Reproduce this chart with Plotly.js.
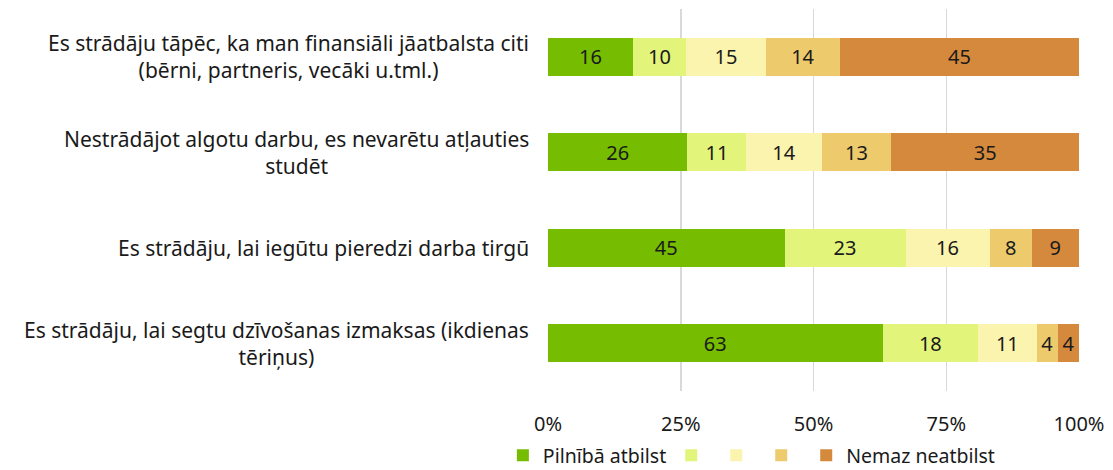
<!DOCTYPE html>
<html>
<head>
<meta charset="utf-8">
<script src="https://cdn.plot.ly/plotly-3.0.1.min.js"></script>
<style>html,body{margin:0;padding:0;background:#fff;}#chart{width:1113px;height:470px;}</style>
</head>
<body>
<div id="chart"></div>
<script>
const categories = [
  "Es strādāju tāpēc, ka man finansiāli jāatbalsta citi<br>(bērni, partneris, vecāki u.tml.)",
  "Nestrādājot algotu darbu, es nevarētu atļauties<br>studēt",
  "Es strādāju, lai iegūtu pieredzi darba tirgū",
  "Es strādāju, lai segtu dzīvošanas izmaksas (ikdienas<br>tēriņus)"
];
const seriesNames = ["Pilnībā atbilst", "", "", "", "Nemaz neatbilst"];
const s1 = [16, 26, 45, 63];
const s2 = [10, 11, 23, 18];
const s3 = [15, 14, 16, 11];
const s4 = [14, 13, 8, 4];
const s5 = [45, 35, 9, 4];
const tickVals = [0, 25, 50, 75, 100];
const tickText = ["0%", "25%", "50%", "75%", "100%"];

const colors = ["#76bc00", "#e2f57a", "#fbf4ae", "#edcb6d", "#d5893c"];
const series = [s1, s2, s3, s4, s5];
const FONT = "'Noto Sans', 'Open Sans', sans-serif";
const FS = 20;

const traces = series.map((vals, i) => ({
  type: 'bar',
  orientation: 'h',
  y: categories,
  x: vals,
  name: seriesNames[i],
  marker: {color: colors[i], line: {width: 0}},
  text: vals.map(String),
  textposition: 'inside',
  insidetextanchor: 'middle',
  textangle: 0,
  textfont: {family: FONT, size: FS, color: '#1a1a1a'},
  hoverinfo: 'skip'
}));

const annotations = categories.map(c => ({
  xref: 'paper', yref: 'y', x: 0, y: c, xanchor: 'right', yanchor: 'middle',
  xshift: -17, text: c, showarrow: false, align: 'center',
  font: {family: FONT, size: 21, color: '#1a1a1a'}
}));

const layout = {
  width: 1113, height: 470,
  margin: {l: 548, r: 34, t: 9, b: 79, autoexpand: false},
  barmode: 'stack',
  barnorm: 'percent',
  bargap: 0.6,
  paper_bgcolor: '#fff', plot_bgcolor: '#fff',
  font: {family: FONT, size: FS, color: '#1a1a1a'},
  uniformtext: {minsize: FS, mode: 'show'},
  xaxis: {
    range: [0, 100], tickvals: tickVals, ticktext: tickText,
    showgrid: true, gridcolor: '#d9d9d9', gridwidth: 1.5,
    zeroline: false, showline: false, ticks: '', ticklabelstandoff: 19,
    tickfont: {family: FONT, size: FS, color: '#1a1a1a'}, fixedrange: true
  },
  yaxis: {
    autorange: 'reversed', showticklabels: false, showgrid: false,
    zeroline: false, showline: false, ticks: '', fixedrange: true
  },
  showlegend: true,
  legend: {
    orientation: 'h', x: -0.085, xanchor: 'left', y: -0.118, yanchor: 'top',
    font: {family: FONT, size: 19.5, color: '#1a1a1a'},
    traceorder: 'normal', itemclick: false, itemdoubleclick: false
  },
  annotations: annotations
};

Plotly.newPlot('chart', traces, layout, {displayModeBar: false, staticPlot: true});
</script>
</body>
</html>
